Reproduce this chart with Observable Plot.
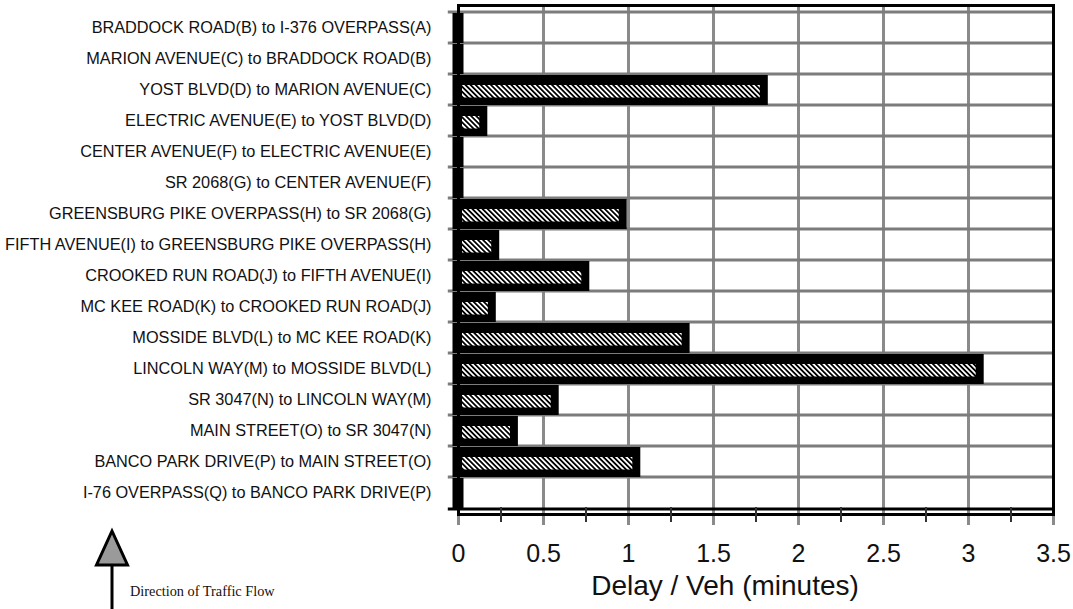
<!DOCTYPE html>
<html>
<head>
<meta charset="utf-8">
<script src="https://cdn.jsdelivr.net/npm/d3@7"></script>
<script src="https://cdn.jsdelivr.net/npm/@observablehq/plot@0.6"></script>
<style>
  html, body { margin: 0; padding: 0; background: #fff; }
  #chart { width: 1073px; height: 609px; overflow: hidden; }
</style>
</head>
<body>
<div id="chart"></div>
<script>
// ---- data (top to bottom) ----
const segments = [
  "BRADDOCK ROAD(B) to I-376 OVERPASS(A)",
  "MARION AVENUE(C) to BRADDOCK ROAD(B)",
  "YOST BLVD(D) to MARION AVENUE(C)",
  "ELECTRIC AVENUE(E) to YOST BLVD(D)",
  "CENTER AVENUE(F) to ELECTRIC AVENUE(E)",
  "SR 2068(G) to CENTER AVENUE(F)",
  "GREENSBURG PIKE OVERPASS(H) to SR 2068(G)",
  "FIFTH AVENUE(I) to GREENSBURG PIKE OVERPASS(H)",
  "CROOKED RUN ROAD(J) to FIFTH AVENUE(I)",
  "MC KEE ROAD(K) to CROOKED RUN ROAD(J)",
  "MOSSIDE BLVD(L) to MC KEE ROAD(K)",
  "LINCOLN WAY(M) to MOSSIDE BLVD(L)",
  "SR 3047(N) to LINCOLN WAY(M)",
  "MAIN STREET(O) to SR 3047(N)",
  "BANCO PARK DRIVE(P) to MAIN STREET(O)",
  "I-76 OVERPASS(Q) to BANCO PARK DRIVE(P)"
];
const delays = [0, 0, 1.79, 0.14, 0, 0, 0.96, 0.21, 0.74, 0.19, 1.33, 3.06, 0.56, 0.32, 1.04, 0];
const xTicks = [0, 0.5, 1, 1.5, 2, 2.5, 3, 3.5];
const xMinorTicks = [0.25, 0.75, 1.25, 1.75, 2.25, 2.75, 3.25];
const xTitle = "Delay / Veh (minutes)";
const flowNote = "Direction of Traffic Flow";

const rows = segments.map((s, i) => ({segment: s, delay: delays[i]}));

// ---- layout ----
const W = 1073, H = 609;
const mL = 458, mR = 20, mT = 5, mB = 95;
const bw = (H - mT - mB) / segments.length;

function decorations() {
  const g = d3.create("svg:g");
  const defs = g.append("defs");
  const p = defs.append("pattern")
    .attr("id", "hatch")
    .attr("patternUnits", "userSpaceOnUse")
    .attr("width", 3.6).attr("height", 3.6)
    .attr("patternTransform", "rotate(-45)");
  p.append("rect").attr("width", 3.6).attr("height", 3.6).attr("fill", "#000");
  p.append("rect").attr("width", 1.8).attr("height", 3.6).attr("fill", "#fff");
  // traffic direction arrow (annotation)
  g.append("line").attr("x1", 112).attr("x2", 112).attr("y1", 563).attr("y2", 612)
    .attr("stroke", "#000").attr("stroke-width", 3);
  g.append("path").attr("d", "M112,531 L127.5,565 L96.5,565 Z")
    .attr("fill", "#9a9a9a").attr("stroke", "#000").attr("stroke-width", 3)
    .attr("stroke-linejoin", "miter");
  g.append("text").attr("x", 130).attr("y", 596)
    .attr("text-anchor", "start")
    .attr("font-family", "'Liberation Serif', 'Times New Roman', serif")
    .attr("font-size", 14.3).attr("fill", "#111").text(flowNote);
  return g.node();
}

const chart = Plot.plot({
  width: W,
  height: H,
  marginLeft: mL,
  marginRight: mR,
  marginTop: mT,
  marginBottom: mB,
  style: {fontFamily: "'Liberation Sans', Arial, sans-serif", background: "#fff", color: "#111"},
  x: {domain: [0, 3.5], label: null},
  y: {domain: segments, paddingInner: 0, paddingOuter: 0, label: null},
  marks: [
    decorations,
    // vertical gridlines
    Plot.ruleX(xTicks, {x: d => d, stroke: "#8a8a8a", strokeWidth: 3, insetBottom: -11}),
    // horizontal gridlines at band boundaries (extend left as ticks)
    Plot.ruleY(segments, {y: d => d, x1: -0.06, x2: 3.5, dy: -bw / 2, stroke: "#7c7c7c", strokeWidth: 3}),
    // black outer bars
    Plot.barX(rows, {y: "segment", x1: 0, x2: "delay", fill: "#000",
      insetLeft: -5.5, insetRight: -5.5, insetTop: 1, insetBottom: 0}),
    // hatched inner bars
    Plot.barX(rows, {y: "segment", x1: 0, x2: "delay", fill: "url(#hatch)",
      insetLeft: 4, insetRight: 2.5, insetTop: 11, insetBottom: 7.5}),
    Plot.frame({stroke: "#000", strokeWidth: 3}),
    // bottom axis line with left tick
    Plot.ruleY([segments[segments.length - 1]], {y: d => d, x1: -0.06, x2: 3.5, dy: bw / 2, stroke: "#000", strokeWidth: 3}),
    // minor ticks
    Plot.ruleX(xMinorTicks, {x: d => d, stroke: "#333", strokeWidth: 2, insetTop: H - mT - mB - 7, insetBottom: -8}),
    Plot.axisX({ticks: xTicks, tickSize: 0, tickPadding: 30, fontSize: 25, label: null, tickFormat: d => String(d)}),
    Plot.axisY({tickSize: 0, tickPadding: 27, fontSize: 16.3, label: null}),
    Plot.text([xTitle], {frameAnchor: "bottom", dx: -31, dy: 72, fontSize: 28, lineAnchor: "middle", fill: "#111"})
  ]
});

document.getElementById("chart").appendChild(chart);
</script>
</body>
</html>
